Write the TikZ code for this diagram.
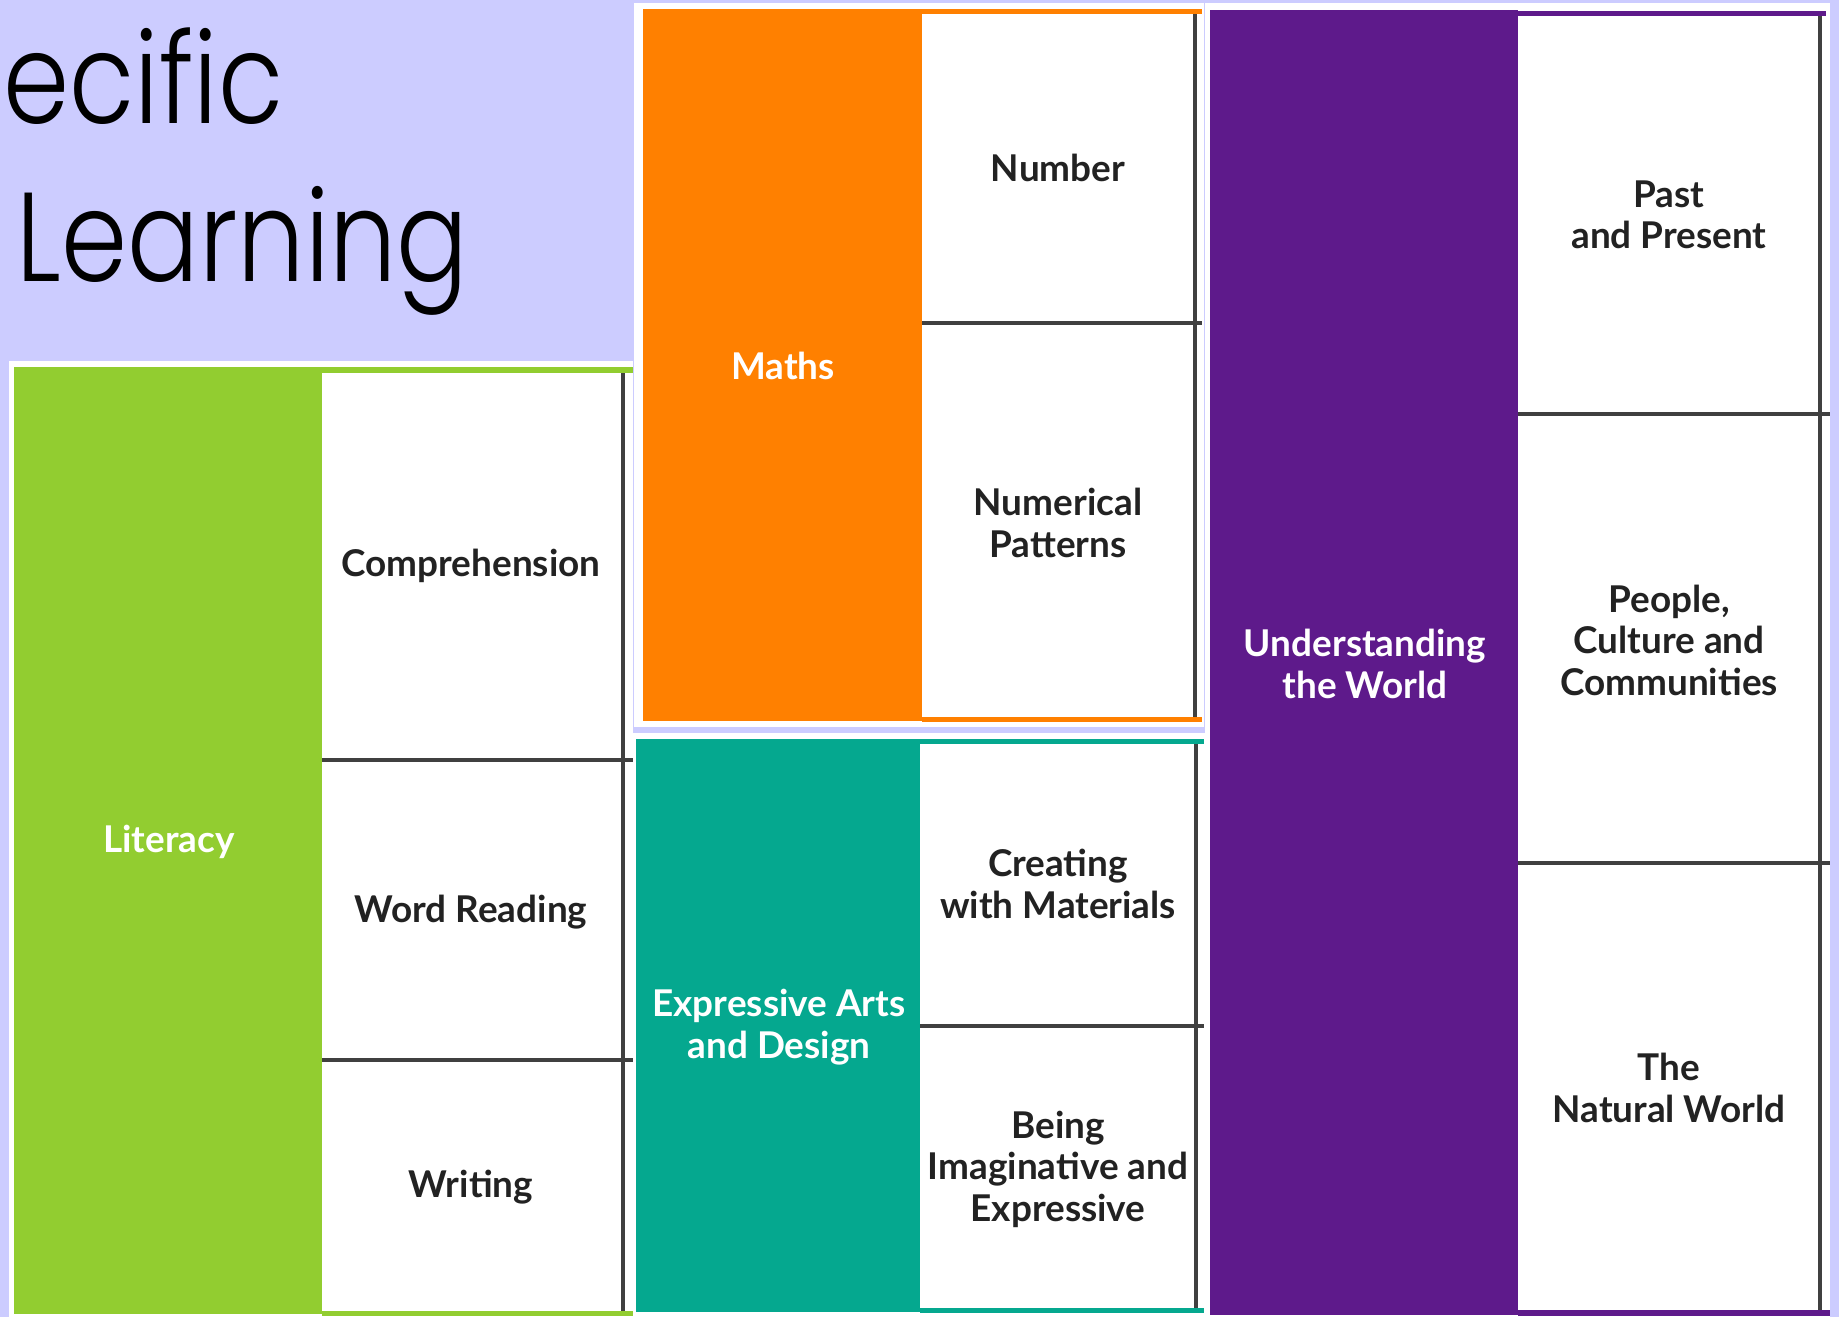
\documentclass[tikz,border=0pt]{standalone}
\usepackage{fontspec}
\setmainfont{Lato}
\newfontfamily\titlefont{Poppins Light}[FakeStretch=0.84]
\definecolor{lavender}{HTML}{CCCCFF}
\definecolor{litgreen}{HTML}{92CD30}
\definecolor{mathsorange}{HTML}{FF8000}
\definecolor{artsteal}{HTML}{05A88F}
\definecolor{worldpurple}{HTML}{5E1A8B}
\definecolor{linegray}{HTML}{404040}
\definecolor{textgray}{HTML}{222222}
\tikzset{
  head/.style={text=white,align=center,font=\bfseries\fontsize{10.5}{11.8}\selectfont},
  cell/.style={text=textgray,align=center,font=\bfseries\fontsize{10.5}{11.8}\selectfont},
  title/.style={font=\titlefont\fontsize{36}{40}\selectfont,inner sep=0pt},
  rule/.style={draw=linegray,line width=0.4mm}
}
\begin{document}
\begin{tikzpicture}[x=0.1mm,y=-0.1mm]
\useasboundingbox (0,0) rectangle (1839,1317);
\clip (0,0) rectangle (1839,1317);
\fill[lavender] (0,0) rectangle (1839,1317);

\node[title,anchor=base west] (ecific) at (3,123) {ecific};
\node[title,anchor=base west] (learning) at (16,281) {Learning};

\fill[white] (9,361) rectangle (633,1317);
\fill[litgreen] (14,367) rectangle (322,1314);
\fill[litgreen] (322,367) rectangle (633,373);
\fill[litgreen] (322,1311) rectangle (633,1316);
\draw[rule] (322,760) -- (633,760) (322,1060) -- (633,1060) (623,373) -- (623,1311);
\node[head] (literacy) at (169,842) {Literacy};
\node[cell] (comprehension) at (471,566) {Comprehension};
\node[cell] (wordreading) at (471,912) {Word Reading};
\node[cell] (writing) at (471,1187) {Writing};

\fill[white] (634,3) rectangle (1204,727);
\fill[mathsorange] (643,9) rectangle (922,721);
\fill[mathsorange] (922,9) rectangle (1202,14);
\fill[mathsorange] (922,717) rectangle (1202,722);
\draw[rule] (922,323) -- (1202,323) (1195,14) -- (1195,717);
\node[head] (maths) at (783,366) {Maths};
\node[cell] (number) at (1058,168) {Number};
\node[cell] (patterns) at (1058,523) {Numerical\\Patterns};

\fill[white] (633,733) rectangle (1205,1317);
\fill[artsteal] (636,739) rectangle (920,1312);
\fill[artsteal] (920,739) rectangle (1204,744);
\fill[artsteal] (920,1308) rectangle (1204,1313);
\draw[rule] (920,1026) -- (1204,1026) (1196,744) -- (1196,1308);
\node[head] (arts) at (779,1027) {Expressive Arts\\and Design};
\node[cell] (materials) at (1058,884) {Creating\\with Materials};
\node[cell] (imaginative) at (1058,1169) {Being\\Imaginative and\\Expressive};

\fill[white] (1205,3) rectangle (1830,1317);
\fill[worldpurple] (1210,10) rectangle (1518,1315);
\fill[worldpurple] (1518,11) rectangle (1826,16);
\fill[worldpurple] (1518,1310) rectangle (1830,1316);
\draw[rule] (1518,414) -- (1830,414) (1518,863) -- (1830,863) (1820,16) -- (1820,1310);
\node[head] (world) at (1365,664) {Understanding\\the World};
\node[cell] (past) at (1669,215) {Past\\and Present};
\node[cell] (people) at (1669,640) {People,\\Culture and\\Communities};
\node[cell] (natural) at (1669,1088) {The\\Natural World};
\end{tikzpicture}
\end{document}
